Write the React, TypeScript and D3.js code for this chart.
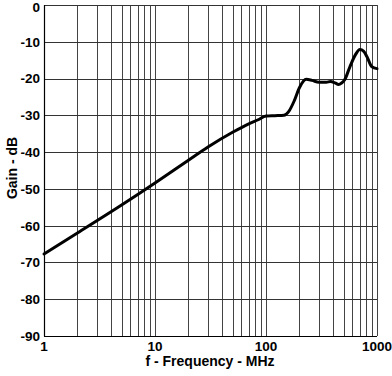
import React from "react";
import * as d3 from "d3";

const freqMHz = [1, 2, 5, 10, 20, 30, 50, 70, 85, 100, 120, 145, 160, 180, 200, 230, 260, 300, 350, 380, 420, 450, 480, 510, 570, 640, 700, 760, 810, 900, 1000];
const gainDb = [-67.7, -62.0, -54.4, -48.4, -42.2, -38.6, -34.6, -32.3, -31.2, -30.2, -30.1, -30.0, -29.0, -26.0, -22.5, -20.2, -20.5, -21.0, -21.0, -20.8, -21.2, -21.6, -21.2, -20.4, -16.8, -13.5, -12.1, -12.6, -14.0, -16.8, -17.3];
const yTicks = [0, -10, -20, -30, -40, -50, -60, -70, -80, -90];
const xTickLabels = [1, 10, 100, 1000];

export default function App() {
  const L = 44, R = 377, T = 5, B = 336;
  const x = d3.scaleLog().domain([1, 1000]).range([L, R]);
  const y = d3.scaleLinear().domain([-90, 0]).range([B, T]);
  const gridX: number[] = [];
  for (let k = 0; k < 3; k++) for (let m = 1; m <= 9; m++) gridX.push(m * Math.pow(10, k));
  gridX.push(1000);
  const line = d3
    .line<number>()
    .x((_, i) => x(freqMHz[i]))
    .y((d) => y(d))
    .curve(d3.curveMonotoneX);
  const font = "'Liberation Sans', Arial, sans-serif";
  return (
    <svg width={392} height={376} style={{ position: "absolute", left: 0, top: 0 }} fontFamily={font}>
      <rect width={392} height={376} fill="#fff" />
      {gridX.map((f) => (
        <line key={"vx" + f} x1={Math.round(x(f)) + 0.5} x2={Math.round(x(f)) + 0.5} y1={T} y2={B} stroke="#444" strokeWidth={1} />
      ))}
      {yTicks.map((v) => (
        <line key={"hy" + v} x1={L} x2={R} y1={Math.round(y(v)) + 0.5} y2={Math.round(y(v)) + 0.5} stroke="#333" strokeWidth={1} />
      ))}
      <line x1={L + 0.5} x2={L + 0.5} y1={T} y2={B + 0.5} stroke="#000" strokeWidth={1.2} />
      <line x1={L} x2={R} y1={B + 0.5} y2={B + 0.5} stroke="#000" strokeWidth={1.2} />
      <path d={line(gainDb) || ""} fill="none" stroke="#000" strokeWidth={3} strokeLinejoin="round" strokeLinecap="round" />
      {yTicks.map((v) => (
        <text key={"ty" + v} x={40} y={v === 0 ? 11.5 : y(v)} dy={v === 0 ? undefined : "0.36em"} textAnchor="end" fontSize={13.5} fontWeight="bold">
          {v}
        </text>
      ))}
      {xTickLabels.map((f) => (
        <text key={"tx" + f} x={x(f)} y={351} textAnchor="middle" fontSize={13.5} fontWeight="bold">
          {f}
        </text>
      ))}
      <text x={210} y={366} textAnchor="middle" fontSize={14} fontWeight="bold">
        f - Frequency - MHz
      </text>
      <text transform={`translate(17,168) rotate(-90)`} textAnchor="middle" fontSize={14} fontWeight="bold">
        Gain - dB
      </text>
    </svg>
  );
}
